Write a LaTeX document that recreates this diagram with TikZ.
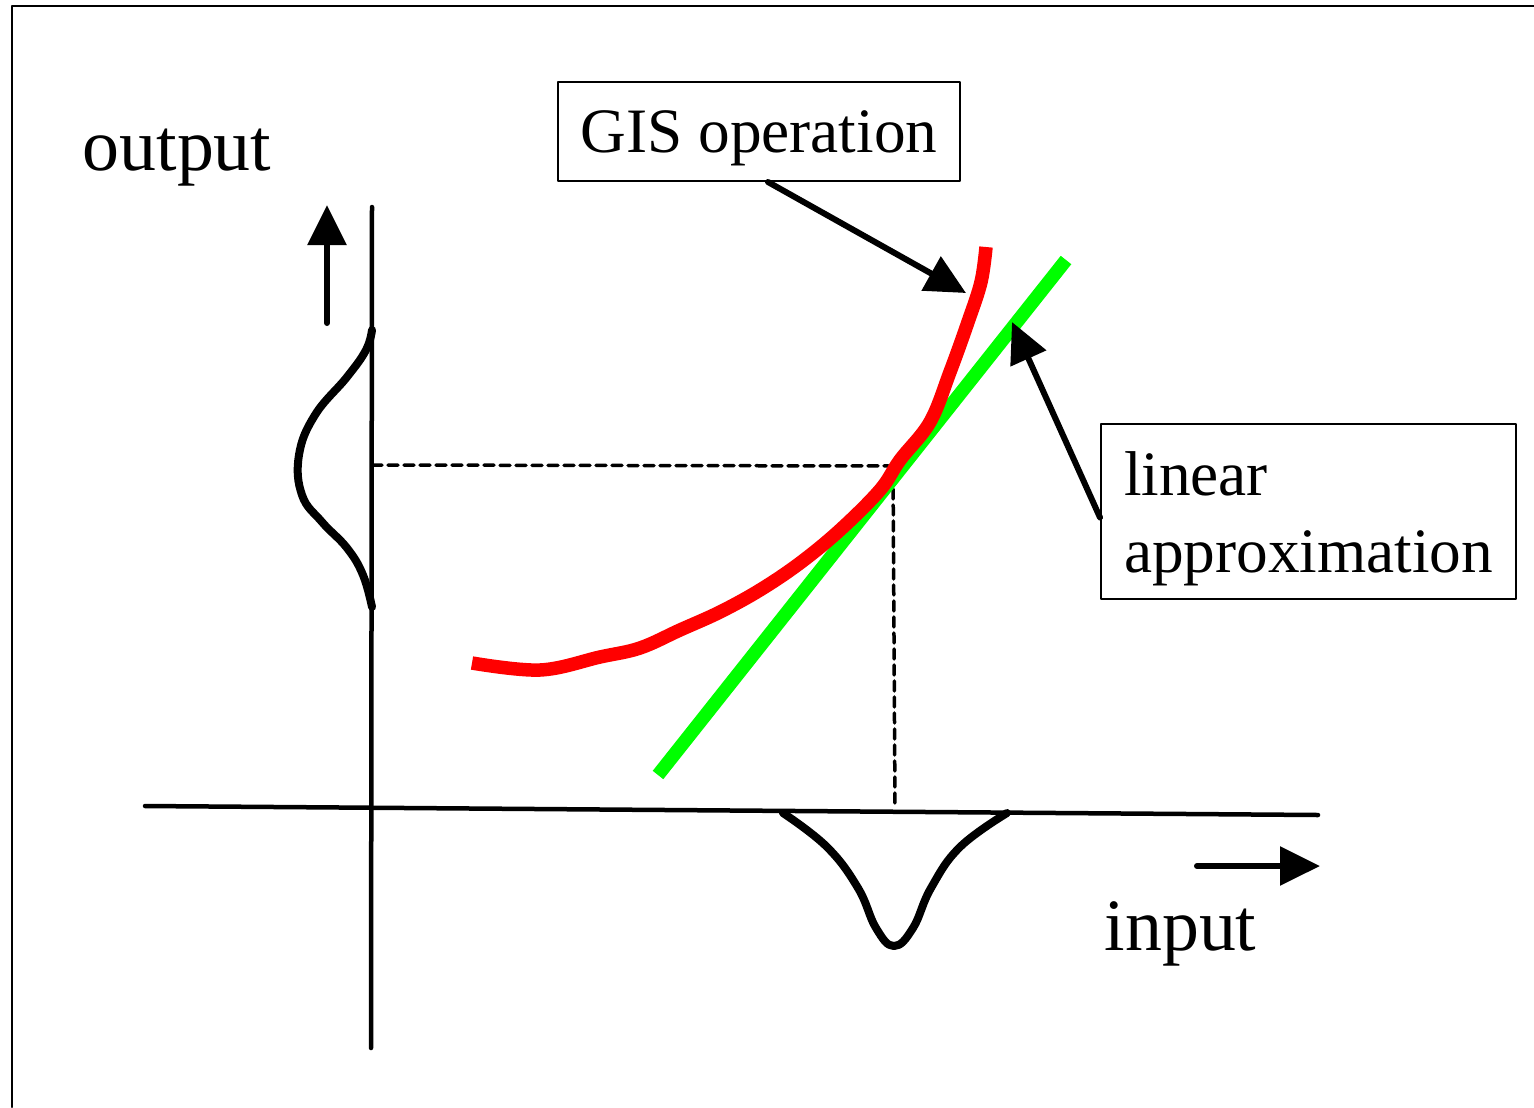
\documentclass[tikz,border=0pt]{standalone}
\usepackage{fontspec}
\setmainfont{Liberation Serif}
\usetikzlibrary{arrows.meta}

\begin{document}
\begin{tikzpicture}[x=0.1mm, y=-0.1mm, line cap=round, line join=round,
	axis/.style={line width=0.45mm},
	bell/.style={line width=0.8mm},
	guide/.style={line width=0.35mm, dash pattern=on 1mm off 0.6mm},
	pointer/.style={line width=0.6mm, -{Triangle[length=4mm,width=3.8mm]}},
	labelbox/.style={draw, line width=0.2mm, font=\fontsize{18}{22}\selectfont},
	axislabel/.style={font=\fontsize{21}{25}\selectfont, inner sep=0pt}]
	% Page size (pixels of the original scan)
	\def\pw{1534} \def\ph{1107}
	\useasboundingbox (0,0) rectangle (\pw,\ph);
	
	% Frame of the scan (only top and left edges show)
	\draw[line width=0.25mm] (\pw,6) -- (12,6) -- (12,\ph);
	
	% Axes
	\draw[axis] (372,207) -- (371,1048);
	\draw[axis] (145,806) -- (1318,815);
	
	% Direction arrows next to the axes
	\coordinate (uptail) at (327,323);
	\coordinate (uphead) at (327,205);
	\draw[pointer] (uptail) -- (uphead);
	\coordinate (righttail) at (1197,866);
	\coordinate (righthead) at (1320,866);
	\draw[pointer] (righttail) -- (righthead);
	
	% Axis labels
	\node[axislabel, anchor=base west] (outlabel) at (82,170) {output};
	\node[axislabel, anchor=base west] (inlabel) at (1104,950) {input};
	
	% Operating point and its projections
	\coordinate (op) at (893,466);
	\draw[guide] (372,465) -- (op) -- (895,808);
	
	% Input distribution below the x axis
	\draw[bell] plot[smooth, tension=0.7] coordinates {(783,813) (827,847) (858,888) (876,928)
		(894,946) (913,928) (931,888) (960,847) (1007,813)};
	
	% Output distribution left of the y axis
	\draw[bell] plot[smooth, tension=0.7] coordinates {(372,330) (366,350) (347,377) (315,415)
		(299,455) (302,495) (322,522) (347,548) (363,575) (372,607)};
	
	% Linear approximation (tangent at the operating point)
	\draw[green, line width=1.35mm, line cap=butt] (658,775) -- (1066,260);
	
	% GIS operation (nonlinear)
	\draw[red, line width=1.35mm, line cap=butt] plot[smooth, tension=0.6] coordinates {(472,663)
		(540,670) (600,657) (640,648) (680,630) (720,612) (760,590) (800,563) (840,530)
		(880,490) (900,460) (930,422) (950,372) (968,322) (981,282) (986,247)};
	
	% Labels in boxes
	\node[labelbox, text depth=0pt, minimum width=40.2mm, minimum height=9.9mm] (gis) at (759,131.5) {GIS operation};
	\node[labelbox, text depth=21.5pt, minimum width=41.5mm, minimum height=17.5mm, text width=36.9mm,
		inner xsep=2.3mm, align=left] (lin) at (1308.5,511.5) {linear\\approximation};
	
	% Pointers from the boxes to the curves
	\coordinate (gistip) at (966,293);
	\draw[pointer] ([xshift=0.9mm]gis.south) -- (gistip);
	\coordinate (lintip) at (1012,322);
	\draw[pointer] ([yshift=-0.6mm]lin.west) -- (lintip);
\end{tikzpicture}
\end{document}
